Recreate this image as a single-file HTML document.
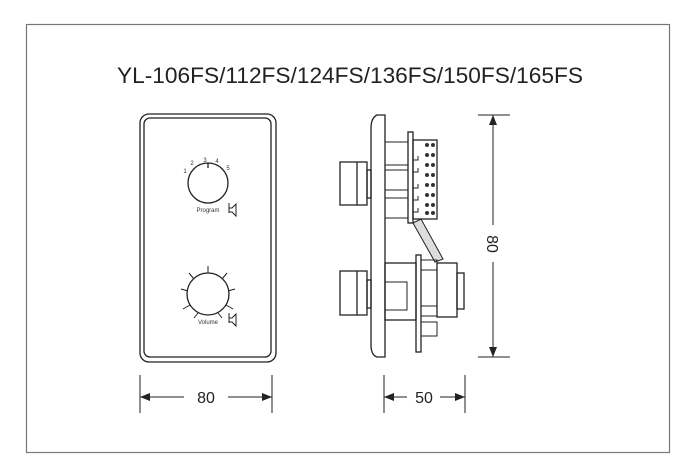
<!DOCTYPE html>
<html><head><meta charset="utf-8"><style>html,body{margin:0;padding:0;background:#fff}svg{display:block}</style></head><body>
<svg width="700" height="473" viewBox="0 0 700 473" xmlns="http://www.w3.org/2000/svg" font-family="Liberation Sans, sans-serif">
<defs><marker id="a" markerWidth="10" markerHeight="8" refX="10" refY="4" orient="auto" markerUnits="userSpaceOnUse"><path d="M0,0 L10,4 L0,8 Z" fill="#222"/></marker></defs>
<rect x="26.5" y="24.5" width="643" height="428" fill="none" stroke="#777" stroke-width="1.2"/>
<text x="350" y="83" font-size="22" text-anchor="middle" textLength="466" lengthAdjust="spacingAndGlyphs" fill="#222">YL-106FS/112FS/124FS/136FS/150FS/165FS</text>
<path d="M413,223 L435,262 L443,259 L421,219 Z" fill="#ddd" stroke="#222" stroke-width="1"/>
<g fill="none" stroke="#222" stroke-width="1.3">
<rect x="140" y="114" width="136" height="248" rx="9"/>
<rect x="144" y="118" width="127" height="239" rx="6"/>
<circle cx="208" cy="183" r="20"/>
<line x1="208" y1="163" x2="208" y2="168"/>
<path d="M229,203 v10 M229,208 h3 l4,-4 v12 l-4,-4 h-3" stroke-width="1"/>
<circle cx="208" cy="294" r="21"/>
<g stroke-width="1">
<line x1="208" y1="273" x2="208" y2="266"/>
<line x1="222" y1="279" x2="227" y2="273"/>
<line x1="228" y1="291" x2="235" y2="289"/>
<line x1="226" y1="305" x2="233" y2="309"/>
<line x1="218" y1="313" x2="222" y2="318"/>
<line x1="194" y1="279" x2="189" y2="273"/>
<line x1="188" y1="291" x2="181" y2="289"/>
<line x1="190" y1="305" x2="183" y2="309"/>
<line x1="198" y1="313" x2="194" y2="318"/>
<path d="M229,313 v10 M229,318 h3 l4,-4 v12 l-4,-4 h-3"/>
</g>
<path d="M385,115 H377 Q371,118 371,128 V345 Q371,355 377,357 H385 Z"/>
<rect x="340" y="162" width="27" height="43"/><line x1="357" y1="162" x2="357" y2="205"/>
<rect x="367" y="170" width="4" height="28"/>
<rect x="340" y="271" width="27" height="44"/><line x1="357" y1="271" x2="357" y2="315"/>
<rect x="367" y="280" width="4" height="28"/>
<rect x="408" y="132" width="5" height="91"/>
<rect x="413" y="140" width="24" height="79"/>
<path d="M385,142 H408 M385,165 H408 M385,170 H408 M385,190 H408 M385,198 H408 M385,218 H408" stroke-width="1"/>
<path d="M413,160 h5 v-4 M413,172 h5 v-4 M413,188 h5 v-4 M413,200 h5 v-4 M413,212 h5 v-4" stroke-width="1"/>
<rect x="416" y="255" width="5" height="97"/>
<rect x="437" y="263" width="20" height="54"/>
<rect x="457" y="273" width="7" height="36"/>
<rect x="385" y="263" width="31" height="57"/>
<rect x="385" y="282" width="22" height="28" stroke-width="1"/>
<rect x="421" y="260" width="16" height="10" stroke-width="1"/>
<rect x="421" y="306" width="16" height="10" stroke-width="1"/>
<rect x="421" y="322" width="16" height="14" stroke-width="1"/>
<rect x="421" y="270" width="16" height="36" stroke-width="1"/>
<g stroke-width="1">
<line x1="478" y1="115" x2="510" y2="115"/><line x1="478" y1="357" x2="510" y2="357"/>
<line x1="493" y1="225" x2="493" y2="115" marker-end="url(#a)"/>
<line x1="493" y1="262" x2="493" y2="357" marker-end="url(#a)"/>
<line x1="140" y1="375" x2="140" y2="413"/><line x1="272" y1="375" x2="272" y2="413"/>
<line x1="184" y1="397" x2="140" y2="397" marker-end="url(#a)"/>
<line x1="228" y1="397" x2="272" y2="397" marker-end="url(#a)"/>
<line x1="384" y1="375" x2="384" y2="413"/><line x1="465" y1="375" x2="465" y2="413"/>
<line x1="407" y1="397" x2="384" y2="397" marker-end="url(#a)"/>
<line x1="440" y1="397" x2="465" y2="397" marker-end="url(#a)"/>
</g>
</g>
<g fill="#333">
<circle cx="427" cy="145" r="2"/><circle cx="433" cy="145" r="2"/>
<circle cx="427" cy="155" r="2"/><circle cx="433" cy="155" r="2"/>
<circle cx="427" cy="165" r="2"/><circle cx="433" cy="165" r="2"/>
<circle cx="427" cy="175" r="2"/><circle cx="433" cy="175" r="2"/>
<circle cx="427" cy="185" r="2"/><circle cx="433" cy="185" r="2"/>
<circle cx="427" cy="195" r="2"/><circle cx="433" cy="195" r="2"/>
<circle cx="427" cy="205" r="2"/><circle cx="433" cy="205" r="2"/>
<circle cx="427" cy="213" r="2"/><circle cx="433" cy="213" r="2"/>
</g>
<g font-size="6" fill="#333" text-anchor="middle">
<text x="185" y="173">1</text><text x="192" y="165">2</text><text x="205" y="162">3</text><text x="217" y="163">4</text><text x="228" y="170">5</text>
<text x="208" y="212">Program</text><text x="208" y="324">Volume</text>
</g>
<g font-size="16" fill="#222" text-anchor="middle">
<text x="206" y="403">80</text><text x="424" y="403">50</text>
<text transform="translate(487,244) rotate(90)">80</text>
</g>
</svg>
</body></html>
